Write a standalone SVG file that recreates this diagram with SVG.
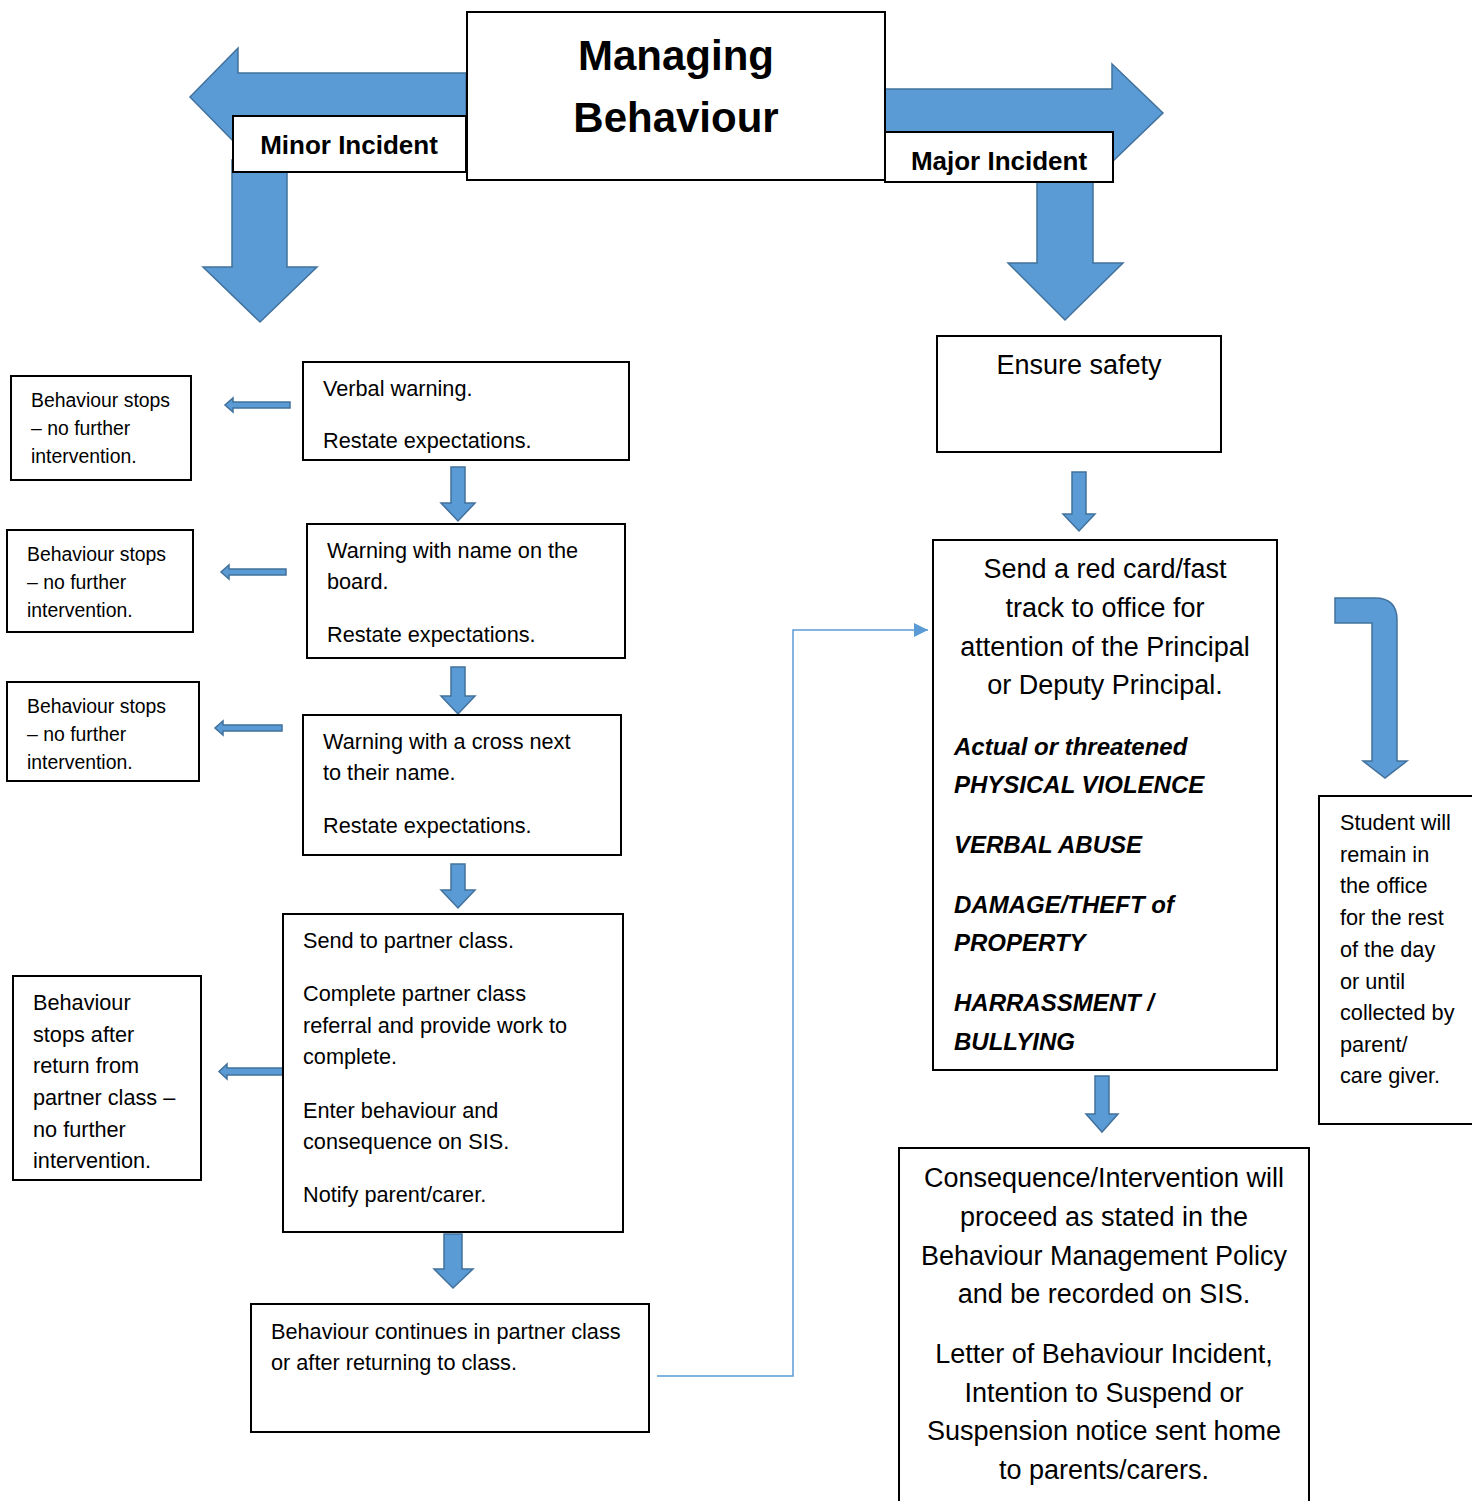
<svg xmlns="http://www.w3.org/2000/svg" width="1472" height="1501" viewBox="0 0 1472 1501">
<style>
.box{fill:#fff;stroke:#000;stroke-width:2}
.arr{fill:#5B9BD5;stroke:#41719C;stroke-width:1.5}
.t{font-family:"Liberation Sans",Arial,sans-serif;fill:#000}
.s{font-size:19.4px}
.m{font-size:21.7px}
.l{font-size:27px}
.c{text-anchor:middle}
.bi{font-weight:bold;font-style:italic;font-size:24px}
.h{font-weight:bold;font-size:42px}
.lab{font-weight:bold;font-size:26px}
.conn{fill:none;stroke:#5B9BD5;stroke-width:1.5}
</style>
<defs>
<marker id="ah" viewBox="0 0 10 10" refX="10" refY="5" markerWidth="15" markerHeight="14" markerUnits="userSpaceOnUse" orient="auto">
<path d="M0,0 L10,5 L0,10 Z" fill="#5B9BD5"/>
</marker>
</defs>
<rect width="1472" height="1501" fill="#fff"/>

<g id="connectors">
<path class="arr" d="M466,73 L238,73 L238,48 L190,97 L238,146 L238,121 L466,121 Z"/>
<path class="arr" d="M232,160 L287,160 L287,267 L317,267 L260,322 L203,267 L232,267 Z"/>
<path class="arr" d="M885,89 L1112,89 L1112,64 L1163,113 L1112,162 L1112,137 L885,137 Z"/>
<path class="arr" d="M1037,170 L1093,170 L1093,263 L1123,263 L1065,320 L1008,263 L1037,263 Z"/>
<path class="arr" d="M290,402 L233,402 L233,398 L225,405 L233,412 L233,408 L290,408 Z"/>
<path class="arr" d="M286,569 L229,569 L229,565 L221,572 L229,579 L229,575 L286,575 Z"/>
<path class="arr" d="M282,725 L223,725 L223,721 L215,728 L223,735 L223,731 L282,731 Z"/>
<path class="arr" d="M283,1068 L227,1068 L227,1064 L219,1071.5 L227,1079 L227,1075 L283,1075 Z"/>
<path class="arr" d="M451,467 L465,467 L465,503 L475,503 L458,521 L441,503 L451,503 Z"/>
<path class="arr" d="M451,667 L465,667 L465,696 L475,696 L458,714 L441,696 L451,696 Z"/>
<path class="arr" d="M451,864 L465,864 L465,890 L475,890 L458,908 L441,890 L451,890 Z"/>
<path class="arr" d="M444,1234 L462,1234 L462,1269 L473,1269 L453,1288 L434,1269 L444,1269 Z"/>
<path class="arr" d="M1072,472 L1086,472 L1086,514 L1095,514 L1079,531 L1063,514 L1072,514 Z"/>
<path class="arr" d="M1095,1076 L1109,1076 L1109,1114 L1118,1114 L1102,1132 L1086,1114 L1095,1114 Z"/>
<path class="arr" d="M1335,598 L1375,598 Q1397,598 1397,620 L1397,761 L1407,761 L1385,778 L1363,761 L1372,761 L1372,623 L1335,623 Z"/>
<polyline class="conn" points="657,1376 793,1376 793,630 928,630" marker-end="url(#ah)"/>
</g>

<g id="title">
<rect class="box" x="467" y="12" width="418" height="168"/>
<text class="t h c" x="676" y="70">Managing</text>
<text class="t h c" x="676" y="132">Behaviour</text>
</g>
<g id="minor">
<rect class="box" x="233" y="116" width="233" height="56"/>
<text class="t lab c" x="349" y="154">Minor Incident</text>
</g>
<g id="major">
<rect class="box" x="885" y="132" width="228" height="50"/>
<text class="t lab c" x="999" y="170">Major Incident</text>
</g>

<g id="verbal">
<rect class="box" x="303" y="362" width="326" height="98"/>
<text class="t m" x="323" y="396">Verbal warning.</text>
<text class="t m" x="323" y="448">Restate expectations.</text>
</g>
<g id="stop1">
<rect class="box" x="11" y="376" width="180" height="104"/>
<text class="t s" x="31" y="407">Behaviour stops</text>
<text class="t s" x="31" y="435">– no further</text>
<text class="t s" x="31" y="463">intervention.</text>
</g>

<g id="name">
<rect class="box" x="307" y="524" width="318" height="134"/>
<text class="t m" x="327" y="558">Warning with name on the</text>
<text class="t m" x="327" y="589">board.</text>
<text class="t m" x="327" y="642">Restate expectations.</text>
</g>
<g id="stop2">
<rect class="box" x="7" y="530" width="186" height="102"/>
<text class="t s" x="27" y="561">Behaviour stops</text>
<text class="t s" x="27" y="589">– no further</text>
<text class="t s" x="27" y="617">intervention.</text>
</g>

<g id="cross">
<rect class="box" x="303" y="715" width="318" height="140"/>
<text class="t m" x="323" y="749">Warning with a cross next</text>
<text class="t m" x="323" y="780">to their name.</text>
<text class="t m" x="323" y="833">Restate expectations.</text>
</g>
<g id="stop3">
<rect class="box" x="7" y="682" width="192" height="99"/>
<text class="t s" x="27" y="713">Behaviour stops</text>
<text class="t s" x="27" y="741">– no further</text>
<text class="t s" x="27" y="769">intervention.</text>
</g>

<g id="partner">
<rect class="box" x="283" y="914" width="340" height="318"/>
<text class="t m" x="303" y="948">Send to partner class.</text>
<text class="t m" x="303" y="1001">Complete partner class</text>
<text class="t m" x="303" y="1033">referral and provide work to</text>
<text class="t m" x="303" y="1064">complete.</text>
<text class="t m" x="303" y="1118">Enter behaviour and</text>
<text class="t m" x="303" y="1149">consequence on SIS.</text>
<text class="t m" x="303" y="1202">Notify parent/carer.</text>
</g>
<g id="stop4">
<rect class="box" x="13" y="976" width="188" height="204"/>
<text class="t m" x="33" y="1010">Behaviour</text>
<text class="t m" x="33" y="1042">stops after</text>
<text class="t m" x="33" y="1073">return from</text>
<text class="t m" x="33" y="1105">partner class –</text>
<text class="t m" x="33" y="1137">no further</text>
<text class="t m" x="33" y="1168">intervention.</text>
</g>

<g id="continues">
<rect class="box" x="251" y="1304" width="398" height="128"/>
<text class="t m" x="271" y="1339">Behaviour continues in partner class</text>
<text class="t m" x="271" y="1370">or after returning to class.</text>
</g>

<g id="safety">
<rect class="box" x="937" y="336" width="284" height="116"/>
<text class="t l c" x="1079" y="374">Ensure safety</text>
</g>

<g id="redcard">
<rect class="box" x="933" y="540" width="344" height="530"/>
<text class="t l c" x="1105" y="578">Send a red card/fast</text>
<text class="t l c" x="1105" y="617">track to office for</text>
<text class="t l c" x="1105" y="656">attention of the Principal</text>
<text class="t l c" x="1105" y="694">or Deputy Principal.</text>
<text class="t bi" x="954" y="755">Actual or threatened</text>
<text class="t bi" x="954" y="793">PHYSICAL VIOLENCE</text>
<text class="t bi" x="954" y="853">VERBAL ABUSE</text>
<text class="t bi" x="954" y="913">DAMAGE/THEFT of</text>
<text class="t bi" x="954" y="951">PROPERTY</text>
<text class="t bi" x="954" y="1011">HARRASSMENT /</text>
<text class="t bi" x="954" y="1050">BULLYING</text>
</g>

<g id="student">
<rect class="box" x="1319" y="796" width="160" height="328"/>
<text class="t m" x="1340" y="830">Student will</text>
<text class="t m" x="1340" y="862">remain in</text>
<text class="t m" x="1340" y="893">the office</text>
<text class="t m" x="1340" y="925">for the rest</text>
<text class="t m" x="1340" y="957">of the day</text>
<text class="t m" x="1340" y="989">or until</text>
<text class="t m" x="1340" y="1020">collected by</text>
<text class="t m" x="1340" y="1052">parent/</text>
<text class="t m" x="1340" y="1083">care giver.</text>
</g>

<g id="consequence">
<rect class="box" x="899" y="1148" width="410" height="370"/>
<text class="t l c" x="1104" y="1187">Consequence/Intervention will</text>
<text class="t l c" x="1104" y="1226">proceed as stated in the</text>
<text class="t l c" x="1104" y="1265">Behaviour Management Policy</text>
<text class="t l c" x="1104" y="1303">and be recorded on SIS.</text>
<text class="t l c" x="1104" y="1363">Letter of Behaviour Incident,</text>
<text class="t l c" x="1104" y="1402">Intention to Suspend or</text>
<text class="t l c" x="1104" y="1440">Suspension notice sent home</text>
<text class="t l c" x="1104" y="1479">to parents/carers.</text>
</g>
</svg>
